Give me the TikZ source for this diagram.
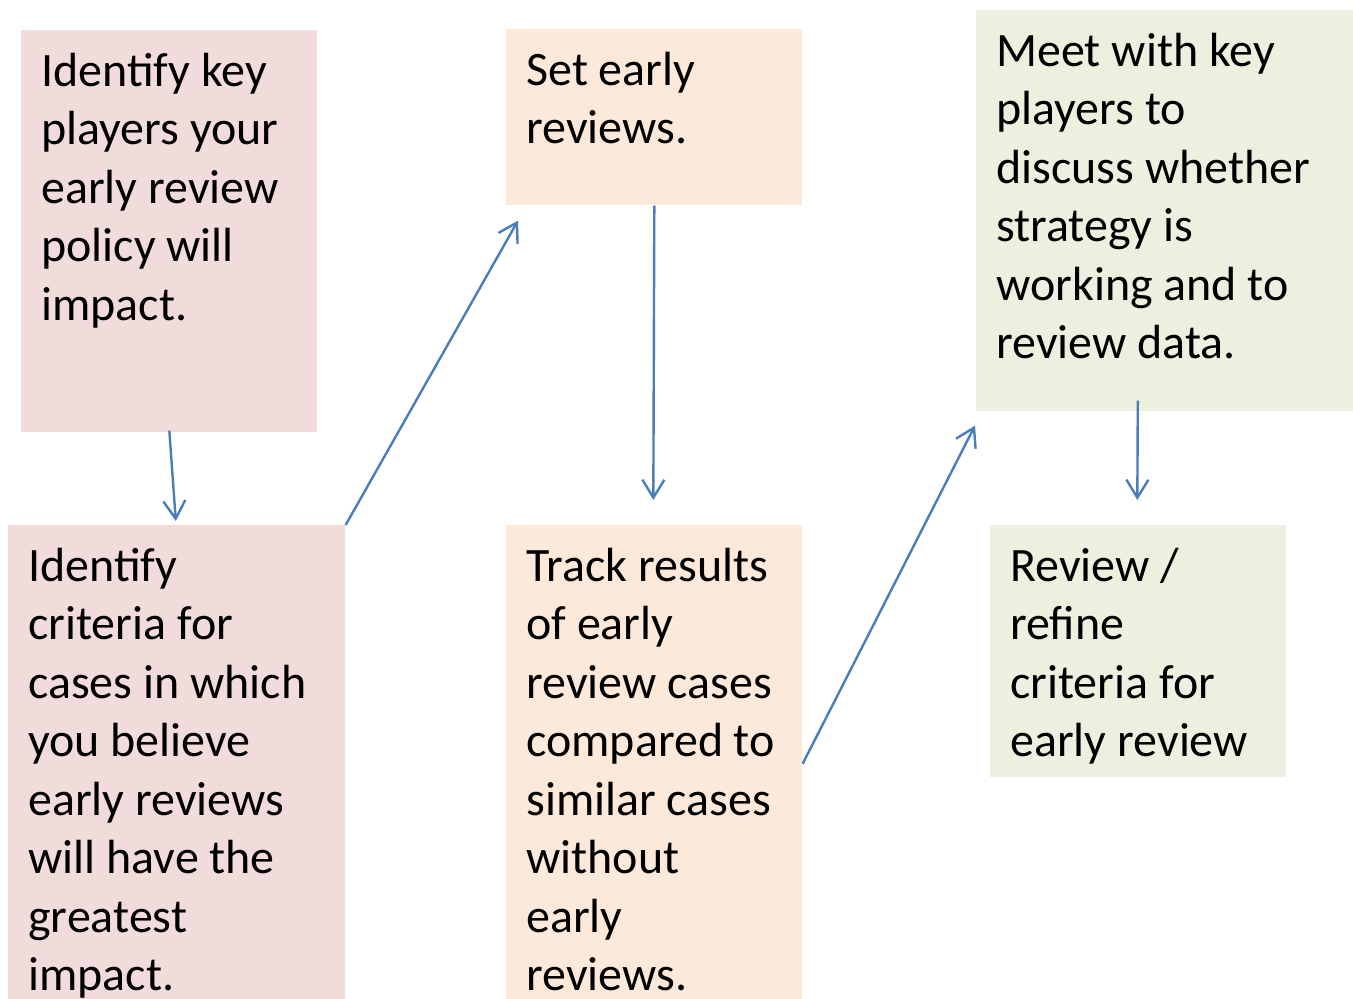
\documentclass[tikz,border=0pt]{standalone}
\usepackage{fontspec}
\setmainfont{Carlito}
\usetikzlibrary{arrows.meta}
\definecolor{boxpink}{HTML}{F2DCDB}
\definecolor{boxpeach}{HTML}{FDE9D9}
\definecolor{boxgreen}{HTML}{EBF1DE}
\definecolor{arrblue}{HTML}{4A7EBB}
\tikzset{
  >={Straight Barb[length=0.36cm,width=0.44cm]},
}
\tikzstyle{box}=[rectangle,inner sep=0,anchor=north west]
\tikzstyle{txt}=[inner sep=0,anchor=north west,align=left,font=\fontsize{27.3pt}{33.3pt}\selectfont]
\tikzstyle{flow}=[arrblue,line width=0.048cm,->]

\begin{document}
\begin{tikzpicture}[x=0.02cm,y=-0.02cm]
    \clip (0,0) rectangle (1353,998);
    \fill[white] (0,0) rectangle (1353,998);

    \node[box,fill=boxpink,minimum width=5.92cm,minimum height=8.04cm] (b1) at (21,30) {};
    \node[txt] (t1) at ([shift={(20,15)}]b1.north west) {\strut Identify key\\players your\\early review\\policy will\\impact.};

    \node[box,fill=boxpink,minimum width=6.74cm,minimum height=9.9cm] (b2) at (8,525) {};
    \node[txt] (t2) at ([shift={(20,15)}]b2.north west) {\strut Identify\\criteria for\\cases in which\\you believe\\early reviews\\will have the\\greatest\\impact.};

    \node[box,fill=boxpeach,minimum width=5.92cm,minimum height=3.52cm] (b3) at (506,29) {};
    \node[txt] (t3) at ([shift={(20,15)}]b3.north west) {\strut Set early\\reviews.};

    \node[box,fill=boxpeach,minimum width=5.92cm,minimum height=9.9cm] (b4) at (506,525) {};
    \node[txt] (t4) at ([shift={(20,15)}]b4.north west) {\strut Track results\\of early\\review cases\\compared to\\similar cases\\without\\early\\reviews.};

    \node[box,fill=boxgreen,minimum width=7.54cm,minimum height=8.02cm] (b5) at (976,10) {};
    \node[txt] (t5) at ([shift={(20,15)}]b5.north west) {\strut Meet with key\\players to\\discuss whether\\strategy is\\working and to\\review data.};

    \node[box,fill=boxgreen,minimum width=5.92cm,minimum height=5.04cm] (b6) at (990,525) {};
    \node[txt] (t6) at ([shift={(20,15)}]b6.north west) {\strut Review /\\refine\\criteria for\\early review};

    % connectors
    \draw[flow] ([shift={(0,-2)}]b1.south) -- ([shift={(-1,-4)}]b2.north);
    \draw[flow] (b2.north east) -- ([shift={(12,15)}]b3.south west);
    \draw[flow] (b3.south) -- ([shift={(-1,-25)}]b4.north);
    \draw[flow] ([shift={(0,-9)}]b4.east) -- ([shift={(-1,14)}]b5.south west);
    \draw[flow] ([shift={(-27,-11)}]b5.south) -- ([shift={(-1,-25)}]b6.north);
\end{tikzpicture}
\end{document}
